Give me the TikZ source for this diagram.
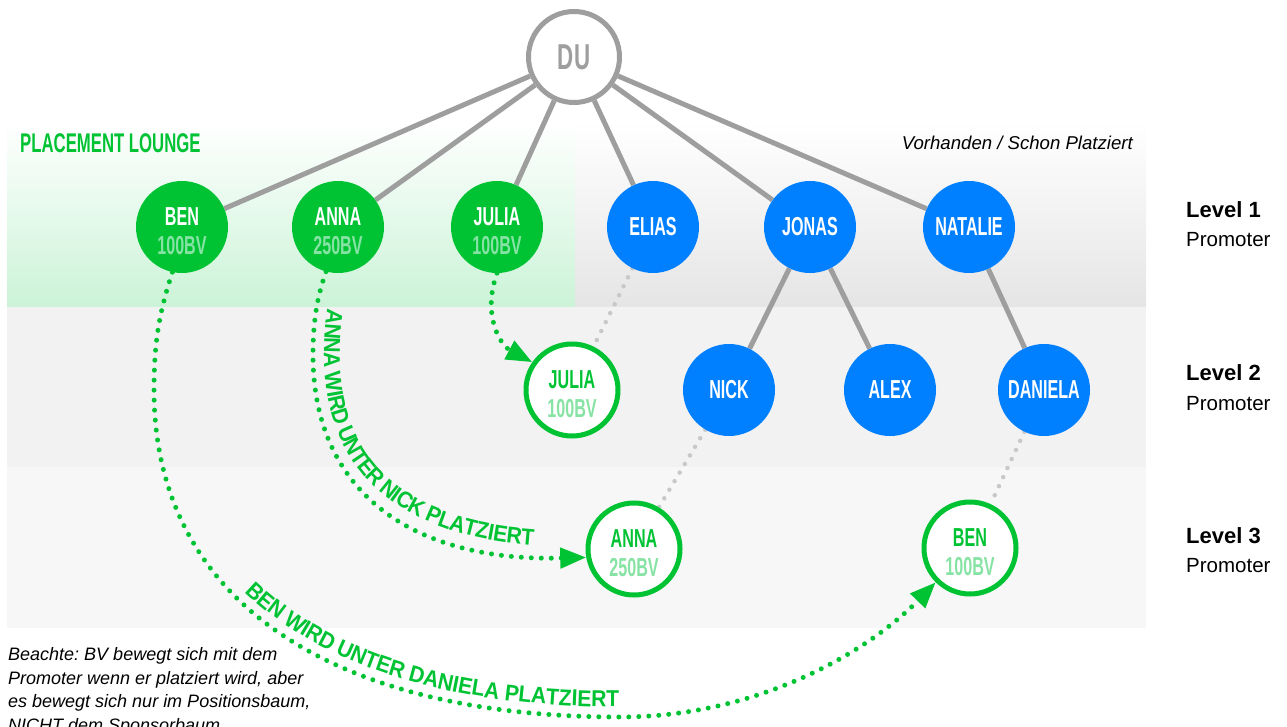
\documentclass[tikz,border=0pt]{standalone}
\usepackage{fontspec}
\setmainfont{Liberation Sans}
\newfontfamily\bebas{Liberation Sans}[FakeStretch=0.62]
\newfontfamily\curvefont{Liberation Sans}[FakeStretch=0.92]
\usetikzlibrary{decorations.text,arrows.meta}
\pgfdeclarelayer{bg}
\pgfdeclarelayer{lines}
\pgfsetlayers{bg,lines,main}
\definecolor{mgreen}{HTML}{00C334}
\definecolor{lgreen}{HTML}{86E3A4}
\definecolor{mblue}{HTML}{0080FF}
\definecolor{lgray}{HTML}{9E9E9E}
\definecolor{dgray}{HTML}{C8C8C8}
\definecolor{band2}{HTML}{F2F2F2}
\definecolor{band3}{HTML}{F7F7F7}
\definecolor{gbot}{HTML}{CBF3D7}
\definecolor{graybot}{HTML}{E5E5E5}
\newcommand\namefont{\bebas\bfseries\fontsize{26}{29}\selectfont}
\newcommand\dufont{\bebas\bfseries\fontsize{36}{36}\selectfont}
\newcommand\curvetext{\curvefont\bfseries\fontsize{23}{23}\selectfont\color{mgreen}}
\newcommand\twolines[2]{\rule{0pt}{27pt}#1\\\textcolor{lgreen}{#2}}
\frenchspacing
\begin{document}
\begin{tikzpicture}[x=1pt,y=-1pt,
  gline/.style={draw=lgray, line width=5pt},
  gdot/.style={draw=dgray, line width=4.5pt, line cap=round, dash pattern=on 0pt off 10pt},
  mover/.style={draw=mgreen, line width=5pt, line cap=round, dash pattern=on 0pt off 10pt, -{Triangle[length=26pt,width=20pt]}},
  gnode/.style={circle, fill=mgreen, minimum size=92pt, inner sep=0pt, align=center, text=white, font=\namefont},
  bnode/.style={circle, fill=mblue, minimum size=92pt, inner sep=0pt, text=white, font=\namefont},
  rnode/.style={circle, draw=mgreen, line width=5pt, fill=white, minimum size=92pt, inner sep=0pt, align=center, text=mgreen, font=\namefont},
  dunode/.style={circle, draw=lgray, line width=5pt, fill=white, minimum size=91pt, inner sep=0pt, text=lgray, font=\dufont},
  lvl/.style={anchor=base west, inner sep=0pt, font=\bfseries\fontsize{22}{22}\selectfont},
  prom/.style={anchor=base west, inner sep=0pt, font=\fontsize{20.5}{20.5}\selectfont}
]
\useasboundingbox (0,0) rectangle (1287,727);
\begin{pgfonlayer}{bg}
\fill[top color=white,bottom color=gbot] (7,122) rectangle (575,307);
\fill[top color=white,bottom color=graybot] (575,122) rectangle (1146,307);
\fill[band2] (7,307) rectangle (1146,467);
\fill[band3] (7,467) rectangle (1146,628);
\end{pgfonlayer}

\node[dunode] (du) at (574,57) {DU};
\node[gnode] (ben) at (182,227) {\twolines{BEN}{100BV}};
\node[gnode] (anna) at (338,227) {\twolines{ANNA}{250BV}};
\node[gnode] (julia) at (497,227) {\twolines{JULIA}{100BV}};
\node[bnode] (elias) at (653,227) {ELIAS};
\node[bnode] (jonas) at (810,227) {JONAS};
\node[bnode] (natalie) at (969,227) {NATALIE};
\node[rnode] (julia2) at (572,390) {\twolines{JULIA}{100BV}};
\node[bnode] (nick) at (729,390) {NICK};
\node[bnode] (alex) at (890,390) {ALEX};
\node[bnode] (daniela) at (1044,390) {DANIELA};
\node[rnode] (anna2) at (634,549) {\twolines{ANNA}{250BV}};
\node[rnode] (ben2) at (970,548) {\twolines{BEN}{100BV}};

\begin{pgfonlayer}{lines}
\foreach \c in {ben,anna,julia,elias,jonas,natalie} \draw[gline] (du) -- (\c);
\draw[gline] (jonas) -- (nick);
\draw[gline] (jonas) -- (alex);
\draw[gline] (natalie) -- (daniela);
\draw[gdot] (elias) -- (julia2);
\draw[gdot] (nick) -- (anna2);
\draw[gdot] (daniela) -- (ben2);
\end{pgfonlayer}

\node[anchor=base west, inner sep=0pt, text=mgreen, font=\bebas\bfseries\fontsize{27}{27}\selectfont] (lounge) at (20,153) {PLACEMENT LOUNGE};
\node[anchor=base east, inner sep=0pt, font=\itshape\fontsize{18.6}{18.6}\selectfont] (vorh) at (1133,150) {Vorhanden / Schon Platziert};

\node[lvl] (l1) at (1186,218) {Level 1};
\node[prom] (p1) at (1186,247) {Promoter};
\node[lvl] (l2) at (1186,380) {Level 2};
\node[prom] (p2) at (1186,410) {Promoter};
\node[lvl] (l3) at (1186,543) {Level 3};
\node[prom] (p3) at (1186,572) {Promoter};

\node[anchor=north west, inner sep=0pt, align=left, font=\itshape\fontsize{18}{23.5}\selectfont] (note) at (8,647.5) {Beachte: BV bewegt sich mit dem\\Promoter wenn er platziert wird, aber\\es bewegt sich nur im Positionsbaum,\\NICHT dem Sponsorbaum};

\draw[mover] (julia.270) .. controls (482,315) and (500,345) .. (julia2.145);

\draw[mover] (anna.255) .. controls (316,300) and (313,325) .. (313,355) .. controls (313,490) and (410,562) .. (anna2.190);
\path[decorate, decoration={text along path, text={|\curvetext|ANNA WIRD UNTER NICK PLATZIERT}, raise=11pt, text align={left indent=37pt}}]
  (anna.255) .. controls (316,300) and (313,325) .. (313,355) .. controls (313,490) and (410,562) .. (anna2.190);

\draw[mover] (ben.258) .. controls (160,310) and (154,340) .. (154,390) .. controls (154,600) and (330,717) .. (620,717) .. controls (760,717) and (870,650) .. (ben2.225);
\path[decorate, decoration={text along path, text={|\curvetext|BEN WIRD UNTER DANIELA PLATZIERT}, raise=10pt, text align={left indent=352pt}}]
  (ben.258) .. controls (160,310) and (154,340) .. (154,390) .. controls (154,600) and (330,717) .. (620,717) .. controls (760,717) and (870,650) .. (ben2.225);
\end{tikzpicture}
\end{document}
